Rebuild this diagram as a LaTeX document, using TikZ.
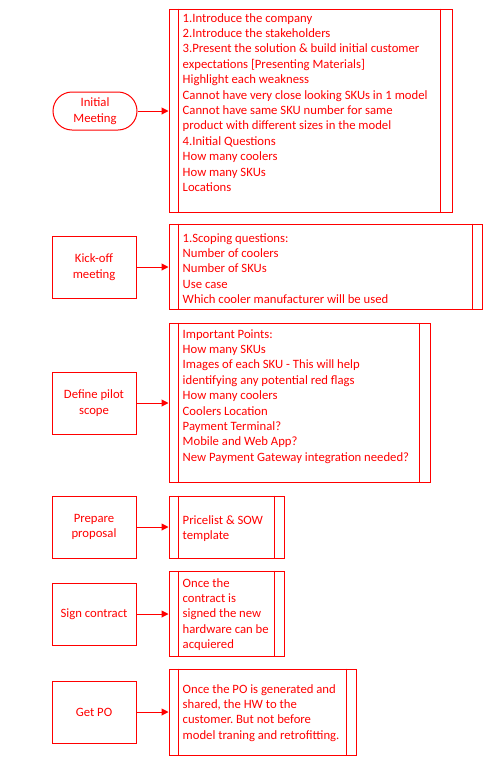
\documentclass[tikz,border=0pt]{standalone}
\usepackage{fontspec}
\setmainfont{Carlito}
\usetikzlibrary{arrows.meta}
\definecolor{flowred}{RGB}{255,0,0}
% two vertical bars inside a note box (predefined-process look)
\newcommand\notebars[3]{%
  \draw[flowred, line width=1pt] ([xshift=#2pt]#1.north west) -- ([xshift=#2pt]#1.south west);
  \draw[flowred, line width=1pt] ([xshift=-#3pt]#1.north east) -- ([xshift=-#3pt]#1.south east);}
\begin{document}
\frenchspacing
\begin{tikzpicture}[x=1pt,y=-1pt,
  every node/.style={font=\fontsize{12.7}{15.4}\selectfont\frenchspacing, text=flowred},
  proc/.style={draw=flowred, line width=1pt, minimum width=84pt, minimum height=62pt, align=center, inner sep=0pt},
  term/.style={proc, minimum height=38pt, rounded corners=19pt},
  note/.style={draw=flowred, line width=1pt, inner sep=0pt},
  notetext/.style={anchor=north west, align=left, inner sep=0pt},
  link/.style={draw=flowred, line width=1pt, -{Triangle[length=7pt,width=7pt]}}
]
\useasboundingbox (0,0) rectangle (500,761);

% process steps
\node[term] (p1) at (95,111) {Initial\\Meeting};
\node[proc] (p2) at (94,267) {Kick-off\\meeting};
\node[proc] (p3) at (94,403) {Define pilot\\scope};
\node[proc] (p4) at (94,527) {Prepare\\proposal};
\node[proc] (p5) at (94,614) {Sign contract};
\node[proc] (p6) at (94,712) {Get PO};

% detail boxes
\node[note, minimum width=283pt, minimum height=203pt] (n1) at (310.5,110.5) {};
\node[note, minimum width=313pt, minimum height=85pt]  (n2) at (325.5,266.5) {};
\node[note, minimum width=261pt, minimum height=159pt] (n3) at (299.5,402.5) {};
\node[note, minimum width=115pt, minimum height=62pt]  (n4) at (226.5,527) {};
\node[note, minimum width=115pt, minimum height=85pt]  (n5) at (226.5,613.5) {};
\node[note, minimum width=187pt, minimum height=86pt]  (n6) at (262.5,712) {};
\notebars{n1}{10}{12}
\notebars{n2}{10}{10}
\notebars{n3}{10}{11}
\notebars{n4}{10}{10}
\notebars{n5}{10}{10}
\notebars{n6}{10}{10}

% detail texts
\node[notetext] (t1) at (182.5,11.2) {\strut 1.Introduce the company\\
2.Introduce the stakeholders\\
3.Present the solution \& build initial customer\\
expectations [Presenting Materials]\\
Highlight each weakness\\
Cannot have very close looking SKUs in 1 model\\
Cannot have same SKU number for same\\
product with different sizes in the model\\
4.Initial Questions\\
How many coolers\\
How many SKUs\\
Locations};
\node[notetext] (t2) at (182.5,231.2) {\strut 1.Scoping questions:\\
Number of coolers\\
Number of SKUs\\
Use case\\
Which cooler manufacturer will be used};
\node[notetext] (t3) at (182.5,327.2) {\strut Important Points:\\
How many SKUs\\
Images of each SKU - This will help\\
identifying any potential red flags\\
How many coolers\\
Coolers Location\\
Payment Terminal?\\
Mobile and Web App?\\
New Payment Gateway integration needed?};
\node[notetext] (t4) at (182.5,513.2) {\strut Pricelist \& SOW\\template};
\node[notetext] (t5) at (182.5,576.2) {\strut Once the\\
contract is\\
signed the new\\
hardware can be\\
acquiered};
\node[notetext] (t6) at (182.5,682.2) {\strut Once the PO is generated and\\
shared, the HW to the\\
customer. But not before\\
model traning and retrofitting.};

% connectors
\foreach \i in {1,...,6}
  \draw[link] (p\i.east) -- (p\i.east -| n\i.west);
\end{tikzpicture}
\end{document}
